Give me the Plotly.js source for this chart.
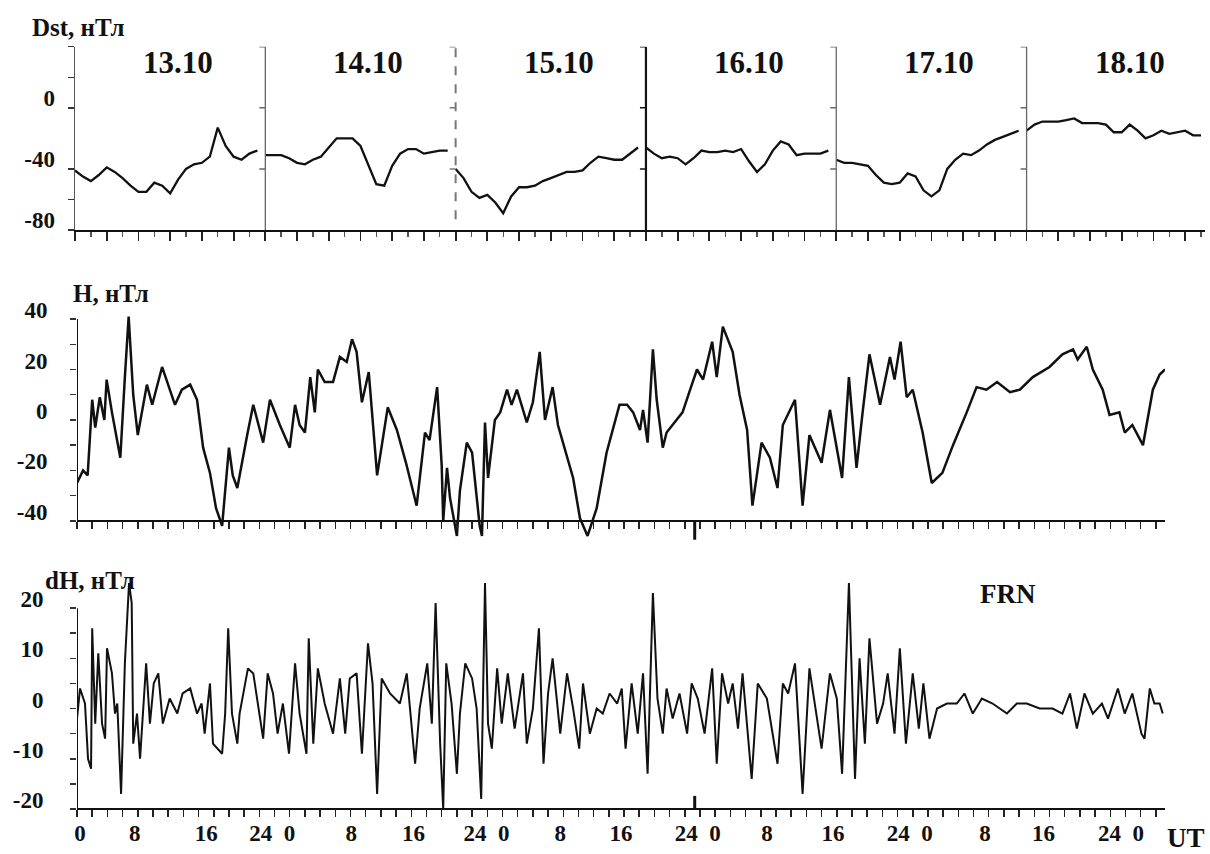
<!DOCTYPE html>
<html>
<head>
<meta charset="utf-8">
<script src="https://cdn.plot.ly/plotly-3.0.1.min.js"></script>
<style>html,body{margin:0;padding:0;background:#fff;}#chart{width:1210px;height:854px;}</style>
</head>
<body>
<div id="chart"></div>
<script>
// ---------- DATA ----------
// Dst, hourly values (nT), one array per day, hours from 13.10 00 UT
const dayLabels = ['13.10', '14.10', '15.10', '16.10', '17.10', '18.10'];
const dayStartHours = [0, 24, 48, 72, 96, 120];
const dst13 = [-41,-45,-48,-44,-39,-42,-46,-51,-55,-55,-49,-51,-56,-47,-40,-37,-36,-32,-13,-25,-32,-34,-30,-28];
const dst14 = [-31,-31,-31,-33,-36,-37,-34,-32,-26,-20,-20,-20,-25,-37,-50,-51,-38,-30,-27,-27,-30,-29,-28,-28];
const dst15 = [-40,-46,-55,-59,-57,-62,-69,-58,-52,-52,-51,-48,-46,-44,-42,-42,-41,-36,-32,-33,-34,-34,-30,-26];
const dst16 = [-26,-30,-33,-32,-33,-37,-33,-28,-29,-29,-28,-29,-27,-35,-42,-37,-28,-22,-24,-31,-30,-30,-30,-28];
const dst17 = [-34,-36,-36,-37,-38,-44,-49,-50,-49,-43,-45,-54,-58,-54,-40,-34,-30,-31,-28,-24,-21,-19,-17,-15];
const dst18 = [-15,-11,-9,-9,-9,-8,-7,-10,-10,-10,-11,-16,-16,-11,-15,-20,-18,-15,-17,-16,-15,-18,-18];
const dstDays = [dst13, dst14, dst15, dst16, dst17, dst18];

// H (nT), FRN, time in hours on the lower time axis
const hHours = [0,0.8,1.4,2.0,2.4,3.0,3.6,3.9,4.6,5.7,
  6.3,6.8,7.4,8.0,9.2,9.9,11.2,11.8,12.9,13.8,
  14.9,15.8,16.6,17.5,18.3,19.1,19.7,20.0,20.5,21.1,
  22.4,23.2,24.5,25.4,26.7,28.0,28.7,29.3,30.0,30.7,
  31.3,31.7,32.6,33.7,34.6,35.5,36.2,36.8,37.5,38.4,
  39.5,40.9,42.1,43.3,44.7,45.8,46.4,47.4,48.0,48.2,
  48.7,49.1,50.0,50.4,51.3,52.0,53.0,53.3,53.7,54.1,
  55.0,55.7,56.6,57.2,57.9,59.2,60.0,60.9,61.6,62.6,
  63.3,64.2,65.3,66.2,67.2,68.4,69.7,71.4,72.4,73.2,
  74.1,74.5,75.1,75.8,76.3,77.1,77.6,78.9,79.7,80.7,
  81.6,82.4,83.6,84.2,85.0,86.3,87.2,88.2,88.9,90.1,
  91.2,92.2,92.9,94.5,95.5,96.4,98.0,99.1,100.7,101.6,
  102.6,103.4,104.3,105.7,107.0,107.6,108.4,109.2,110.0,111.3,
  112.5,113.9,115.3,117.1,118.4,119.7,121.1,122.8,124.1,125.8,
  128.0,129.7,131.1,131.7,132.9,133.7,135.0,135.9,137.2,137.9,
  138.9,140.3,140.9,141.6,142.5,143.2];
const hValues = [-25,-20,-22,8,-3,9,0,16,3,-15,
  17,41,10,-6,14,6,21,16,6,12,
  14,8,-11,-21,-35,-42,-23,-11,-22,-27,
  -6,6,-9,8,-2,-11,6,-2,-5,17,
  3,20,15,15,25,23,32,27,7,19,
  -22,5,-4,-17,-34,-5,-8,13,-18,-40,
  -19,-31,-46,-28,-9,-13,-42,-46,-1,-23,
  0,3,12,6,12,-1,7,27,0,13,
  -2,-11,-23,-39,-46,-35,-13,6,6,3,
  -4,4,-9,28,8,-11,-5,0,3,12,
  20,16,31,17,37,27,10,-4,-34,-9,
  -15,-27,-2,8,-34,-6,-17,4,-23,17,
  -19,3,26,6,25,16,31,9,12,-5,
  -25,-21,-10,3,13,12,15,11,12,17,
  21,26,28,24,29,20,12,2,3,-5,
  -2,-10,0,12,18,20];

// dH (nT), FRN
const dhHours = [0,0.4,1.05,1.45,1.85,2.0,2.4,2.8,3.3,3.7,
  3.95,4.6,5.0,5.3,5.8,6.3,6.85,7.2,7.4,7.9,
  8.3,9.1,9.6,10.1,10.7,11.3,12.2,13.2,13.9,14.9,
  15.8,16.4,16.8,17.5,17.9,19.1,19.5,19.9,20.4,21.1,
  21.4,22.5,23.2,23.7,24.5,25.1,25.8,26.4,27.1,27.9,
  28.7,29.3,30.2,30.5,31.1,31.7,32.6,33.7,34.6,35.3,
  35.9,36.8,37.5,38.3,38.9,39.5,40.1,41.2,42.5,43.4,
  44.5,45.1,46.1,46.7,47.2,47.8,48.2,48.6,49.3,50.0,
  50.4,51.1,52.0,52.6,53.2,53.7,54.1,54.6,55.3,55.9,
  56.7,57.6,58.7,59.2,60.0,60.8,61.4,62.0,62.6,63.6,
  64.5,65.3,66.1,66.6,67.5,68.4,69.2,70.1,71.1,71.7,
  72.2,73.0,73.8,74.5,75.1,75.8,76.4,77.1,77.6,78.4,
  79.3,80.3,80.9,81.7,82.6,83.6,84.2,84.9,85.7,86.3,
  87.0,87.6,88.8,89.6,90.8,92.2,92.9,93.6,94.5,95.5,
  96.4,98.0,99.1,100.0,100.7,101.6,102.4,103.0,103.7,104.3,
  105.3,106.1,106.7,107.6,108.3,109.1,110.0,110.8,111.4,112.2,
  113.2,114.5,115.8,116.8,117.9,119.1,120.5,122.4,123.7,125.0,
  126.7,128.4,129.7,130.7,131.6,132.6,133.7,134.9,135.7,137.0,
  137.9,138.9,140.1,140.5,141.2,141.8,142.5,142.9];
const dhValues = [-2,4,1,-10,-12,16,-3,11,-3,-6,
  12,7,-1,1,-17,9,25,21,-7,-1,
  -10,9,-3,5,7,-3,2,-1,3,4,
  -1,1,-5,5,-7,-9,-1,16,-1,-7,
  -1,8,7,2,-6,7,3,-5,1,-9,
  9,-1,-9,14,-7,8,1,-5,6,-5,
  6,7,-9,13,5,-17,6,3,1,7,
  -11,0,9,-3,21,-7,-20,9,1,-13,
  -1,9,6,0,-18,25,-3,-8,8,-3,
  7,-4,7,-7,0,16,-11,3,10,-5,
  7,0,-8,5,-5,0,-1,3,1,4,
  -8,5,-5,7,-13,23,2,-5,4,-2,
  3,-5,5,2,-5,8,-11,7,1,5,
  -4,7,-14,5,2,-11,5,3,9,-17,
  8,-8,7,2,-13,25,-14,10,-7,14,
  -3,1,7,-5,12,-7,7,-4,5,-6,
  0,1,1,3,-1,2,1,-1,1,1,
  0,0,-1,3,-4,3,-1,1,-2,4,
  -1,3,-5,-6,4,1,1,-1];

// tick labels
const dstTickVals = [-80,-60,-40,0,20,40];
const dstTickText = ['-80','','-40','0','',''];
const hTickVals = [-40,-30,-20,-10,0,10,20,30,40];
const hTickText = ['-40','','-20','','0','','20','','40'];
const dhTickVals = [-20,-15,-10,-5,0,5,10,15,20];
const dhTickText = ['-20','','-10','','0','','10','','20'];
const utTickVals = [0.4,7.6,17.0,25.7,36.1,44.3,53.9,63.6,71.6,81.7,90.8,99.5,109.6,119.5,127.2,137.4];
const utTickText = ['0','8','16','24\u00a0\u00a00','8','16','24\u00a0\u00a00','8','16','24\u00a0\u00a00','8','16','24\u00a0\u00a00','8','16','24\u00a0\u00a00'];
const markHour = 81.3;

// ---------- BUILD ----------
const FONT = 'Liberation Serif, "Times New Roman", serif';
const tf = (s) => ({family: FONT, size: s, color: '#111', weight: 700});

const dstX = [], dstY = [];
dstDays.forEach((arr, d) => {
  arr.forEach((v, i) => { dstX.push(dayStartHours[d] + i); dstY.push(v); });
  dstX.push(null); dstY.push(null);
});

const traces = [
  {x: dstX, y: dstY, xaxis: 'x', yaxis: 'y', mode: 'lines', connectgaps: false,
   line: {color: '#111', width: 2.3}, hoverinfo: 'skip'},
  {x: hHours, y: hValues, xaxis: 'x2', yaxis: 'y2', mode: 'lines',
   line: {color: '#111', width: 2.5}, hoverinfo: 'skip'},
  {x: dhHours, y: dhValues, xaxis: 'x3', yaxis: 'y3', mode: 'lines',
   line: {color: '#111', width: 2}, hoverinfo: 'skip'}
];

const W = 1210, Hh = 854;
const px = (v) => v / W;
const py = (v) => 1 - v / Hh;

const shapes = [];
// day separators in Dst panel
dayStartHours.slice(1).forEach((h, k) => {
  const i = k + 1;
  let line = {color: '#666', width: 1.3};
  let y0 = -80;
  if (i === 2) { line = {color: '#777', width: 2, dash: 'dash'}; y0 = -73; }
  if (i === 3) { line = {color: '#111', width: 2.2}; }
  shapes.push({type: 'line', xref: 'x', yref: 'y', x0: h, x1: h, y0: y0, y1: 40, line: line});
  [40, 0, -40].forEach((yv) => {
    shapes.push({type: 'line', xref: 'x', yref: 'y', xsizemode: 'pixel', xanchor: h,
      x0: -6, x1: 0, y0: yv, y1: yv, line: {color: line.color, width: 1.5}});
  });
});
// y axis lines of lower panels
shapes.push({type: 'line', xref: 'x2', yref: 'y2', x0: 0, x1: 0, y0: -40, y1: 40, line: {color: '#111', width: 2}});
shapes.push({type: 'line', xref: 'x3', yref: 'y3', x0: 0, x1: 0, y0: -20, y1: 20, line: {color: '#111', width: 2}});
// mark on lower time axes
shapes.push({type: 'line', xref: 'x2', yref: 'y2', x0: markHour, x1: markHour, y0: -40, y1: -47.5, line: {color: '#111', width: 3}});
shapes.push({type: 'line', xref: 'x3', yref: 'y3', x0: markHour, x1: markHour, y0: -20, y1: -17.4, line: {color: '#111', width: 3}});

const annotations = [
  {xref: 'paper', yref: 'paper', x: px(30), y: py(27), xanchor: 'left', yanchor: 'middle', showarrow: false, text: 'Dst, нТл', font: tf(25)},
  {xref: 'paper', yref: 'paper', x: px(71), y: py(293), xanchor: 'left', yanchor: 'middle', showarrow: false, text: 'H, нТл', font: tf(25)},
  {xref: 'paper', yref: 'paper', x: px(43), y: py(580), xanchor: 'left', yanchor: 'middle', showarrow: false, text: 'dH, нТл', font: tf(25)},
  {xref: 'paper', yref: 'paper', x: px(1008), y: py(594), xanchor: 'center', yanchor: 'middle', showarrow: false, text: 'FRN', font: tf(27)},
  {xref: 'paper', yref: 'paper', x: px(1186), y: py(838), xanchor: 'center', yanchor: 'middle', showarrow: false, text: 'UT', font: tf(27)}
];
dayLabels.forEach((t, d) => {
  annotations.push({xref: 'x', yref: 'y', x: dayStartHours[d] + 13, y: 29.5, xanchor: 'center', yanchor: 'middle',
    showarrow: false, text: t, font: tf(31)});
});

const lowerDomainX = [px(77), px(1165)];
const layout = {
  width: W, height: Hh,
  margin: {l: 0, r: 0, t: 0, b: 0},
  paper_bgcolor: '#fff', plot_bgcolor: 'rgba(0,0,0,0)',
  showlegend: false,
  font: {family: FONT, color: '#111'},
  xaxis: {
    domain: [px(75), px(1205)], range: [0, 142.5], anchor: 'y',
    showline: true, linecolor: '#111', linewidth: 2,
    showgrid: false, zeroline: false, showticklabels: false,
    ticks: 'outside', tickmode: 'linear', tick0: 0, dtick: 4, ticklen: 9, tickwidth: 1.8, tickcolor: '#222',
    minor: {ticks: 'outside', tickmode: 'linear', tick0: 0, dtick: 2, ticklen: 5, tickwidth: 1.4, tickcolor: '#555', showgrid: false}
  },
  yaxis: {
    domain: [py(230), py(46.7)], range: [-80, 40], anchor: 'x',
    showline: true, linecolor: '#555', linewidth: 1.5,
    showgrid: false, zeroline: false,
    tickmode: 'array', tickvals: dstTickVals, ticktext: dstTickText,
    ticks: 'outside', ticklen: 6, tickwidth: 1.5, tickcolor: '#333',
    tickfont: tf(23), ticklabelstandoff: 8, ticklabelshift: -10
  },
  xaxis2: {
    domain: lowerDomainX, range: [0, 143.2], anchor: 'free', position: py(521),
    showline: true, linecolor: '#111', linewidth: 2,
    showgrid: false, zeroline: false, showticklabels: false,
    ticks: 'outside', tickmode: 'linear', tick0: 0, dtick: 2, ticklen: 7, tickwidth: 1.5, tickcolor: '#222'
  },
  yaxis2: {
    domain: [py(541), py(314)], range: [-48, 42], anchor: 'x2',
    showline: false, showgrid: false, zeroline: false,
    tickmode: 'array', tickvals: hTickVals, ticktext: hTickText,
    ticks: 'outside', ticklen: 6, tickwidth: 1.5, tickcolor: '#333',
    tickfont: tf(23), ticklabelstandoff: 18, ticklabelshift: -9
  },
  xaxis3: {
    domain: lowerDomainX, range: [0, 143.2], anchor: 'free', position: py(809),
    showline: true, linecolor: '#111', linewidth: 2,
    showgrid: false, zeroline: false,
    tickmode: 'array', tickvals: utTickVals, ticktext: utTickText,
    ticks: '', tickfont: tf(23), ticklabelstandoff: 3,
    minor: {ticks: 'outside', tickmode: 'linear', tick0: 0, dtick: 2, ticklen: 7, tickwidth: 1.5, tickcolor: '#222', showgrid: false}
  },
  yaxis3: {
    domain: [py(819), py(573)], range: [-22, 27], anchor: 'x3',
    showline: false, showgrid: false, zeroline: false,
    tickmode: 'array', tickvals: dhTickVals, ticktext: dhTickText,
    ticks: 'outside', ticklen: 6, tickwidth: 1.5, tickcolor: '#333',
    tickfont: tf(23), ticklabelstandoff: 22, ticklabelshift: -9
  },
  shapes: shapes,
  annotations: annotations
};

Plotly.newPlot('chart', traces, layout, {staticPlot: true, displayModeBar: false});
</script>
</body>
</html>
